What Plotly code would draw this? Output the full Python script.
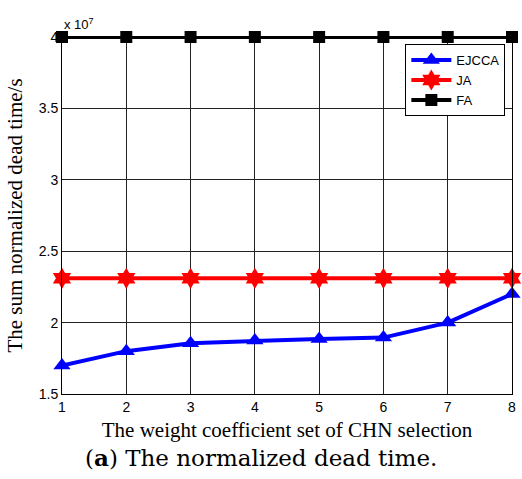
import plotly.graph_objects as go

x_vals = [1, 2, 3, 4, 5, 6, 7, 8]
ejcca = [1.70, 1.80, 1.856, 1.874, 1.886, 1.895, 2.00, 2.20]
ja = [2.31, 2.31, 2.31, 2.31, 2.31, 2.31, 2.31, 2.31]
fa = [4.0, 4.0, 4.0, 4.0, 4.0, 4.0, 4.0, 4.0]
y_ticks = [1.5, 2, 2.5, 3, 3.5, 4]
y_tick_text = ["1.5", "2", "2.5", "3", "3.5", "4"]

fig = go.Figure()
fig.add_trace(go.Scatter(x=x_vals, y=ejcca, name="EJCCA", mode="lines+markers",
                         line=dict(color="#0000ff", width=4),
                         marker=dict(symbol="triangle-up", size=15, color="#0000ff"),
                         cliponaxis=False))
fig.add_trace(go.Scatter(x=x_vals, y=ja, name="JA", mode="lines+markers",
                         line=dict(color="#ff0000", width=4),
                         marker=dict(symbol="hexagram", size=16, color="#ff0000"),
                         cliponaxis=False))
fig.add_trace(go.Scatter(x=x_vals, y=fa, name="FA", mode="lines+markers",
                         line=dict(color="#000000", width=4),
                         marker=dict(symbol="square", size=12, color="#000000"),
                         cliponaxis=False))

axis_common = dict(showline=True, linecolor="black", linewidth=1, mirror=True,
                   showgrid=True, gridcolor="#222222", gridwidth=1, zeroline=False,
                   ticks="", tickfont=dict(family="Liberation Sans, Arial", size=14, color="black"))

fig.update_layout(
    width=522, height=479,
    margin=dict(l=62, r=6, t=37, b=85),
    paper_bgcolor="white", plot_bgcolor="white",
    xaxis=dict(range=[1, 8], tickvals=x_vals, ticktext=[str(v) for v in x_vals],
               title=dict(text="The weight coefficient set of CHN selection",
                          font=dict(family="Liberation Serif, Times New Roman", size=21, color="black"),
                          standoff=8),
               **axis_common),
    yaxis=dict(range=[1.5, 4], tickvals=y_ticks, ticktext=y_tick_text,
               title=dict(text="The sum normalized dead time/s",
                          font=dict(family="Liberation Serif, Times New Roman", size=21, color="black"),
                          standoff=10),
               **axis_common),
    legend=dict(x=0.763, y=0.98, xanchor="left", yanchor="top",
                bgcolor="white", bordercolor="black", borderwidth=1,
                font=dict(family="Liberation Sans, Arial", size=13, color="black"),
                itemwidth=40, tracegroupgap=0),
    showlegend=True,
)

fig.add_annotation(xref="paper", yref="paper", x=0.0, y=1.0, xanchor="left", yanchor="bottom",
                   text="x 10<sup>7</sup>", showarrow=False, yshift=3,
                   font=dict(family="Liberation Sans, Arial", size=13, color="black"))
fig.add_annotation(xref="paper", yref="paper", x=0.443, y=0, xanchor="center", yanchor="top",
                   yshift=-48, text="(<b>a</b>) The normalized dead time.", showarrow=False,
                   font=dict(family="DejaVu Serif", size=23, color="black"))

fig.write_html("out.html")
